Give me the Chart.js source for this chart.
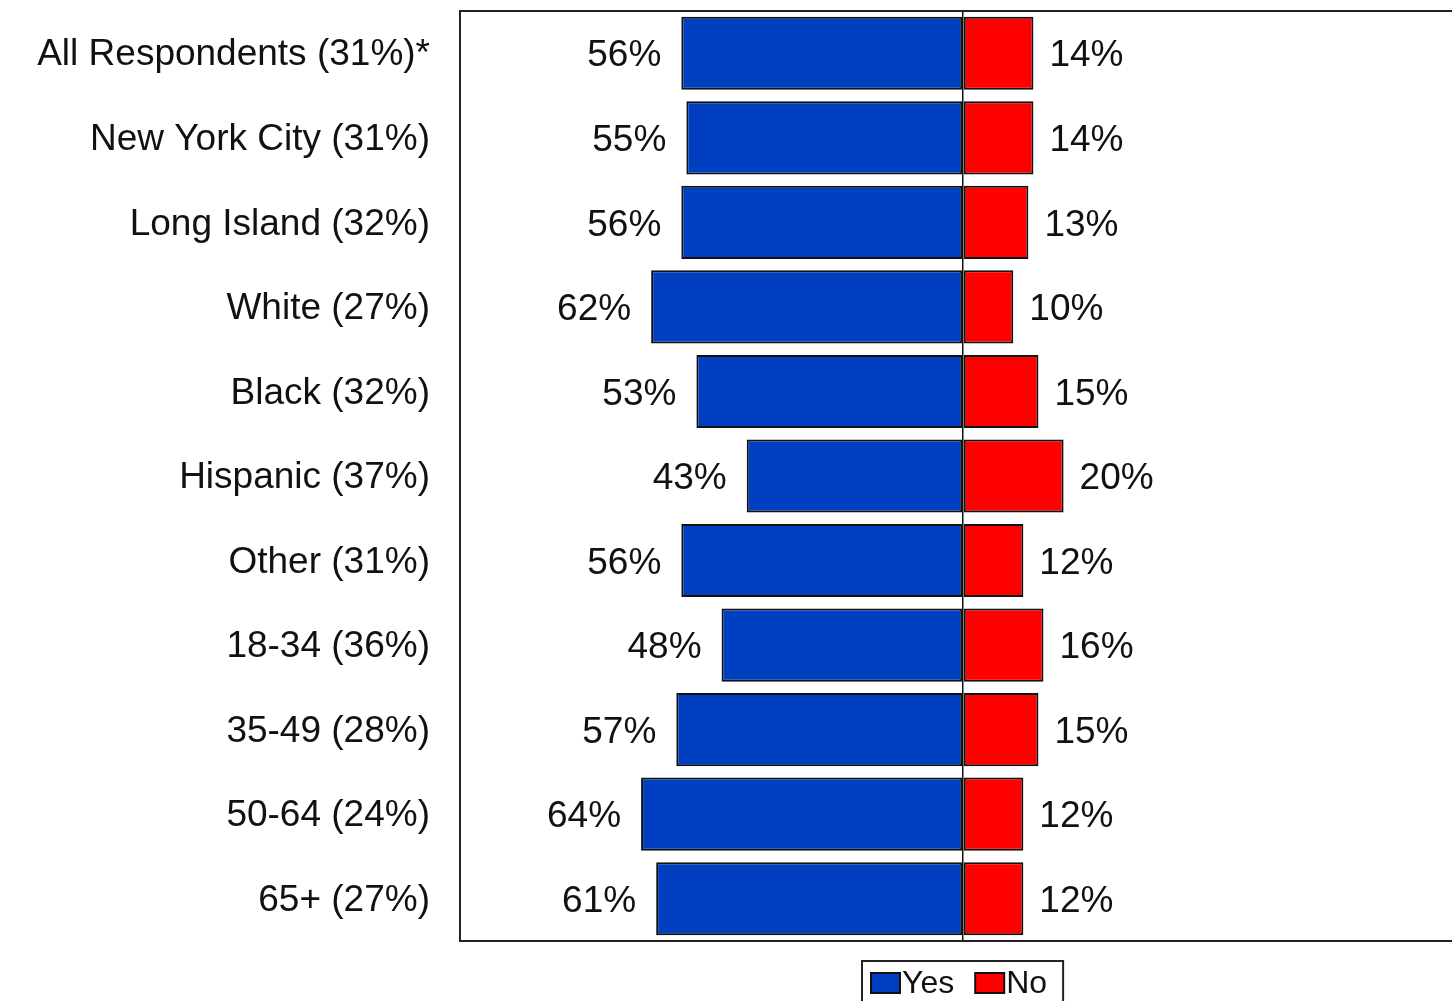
<!DOCTYPE html>
<html>
<head>
<meta charset="utf-8">
<script src="https://cdn.jsdelivr.net/npm/chart.js@4.4.1/dist/chart.umd.min.js"></script>
<style>
  html, body { margin: 0; padding: 0; background: #fff; overflow: hidden; }
  #wrap { position: relative; width: 1470px; height: 1001px; }
</style>
</head>
<body>
<div id="wrap"><canvas id="c"></canvas></div>
<script>
const categories = ["All Respondents (31%)*", "New York City (31%)", "Long Island (32%)", "White (27%)", "Black (32%)", "Hispanic (37%)", "Other (31%)", "18-34 (36%)", "35-49 (28%)", "50-64 (24%)", "65+ (27%)"];
const yesValues = [56, 55, 56, 62, 53, 43, 56, 48, 57, 64, 61];
const noValues  = [14, 14, 13, 10, 15, 20, 12, 16, 15, 12, 12];
const seriesNames = ["Yes", "No"];
const seriesColors = ["#0040C0", "#FF0000"];

const FONT = "'Liberation Sans', Arial, sans-serif";

const valueLabels = {
  id: 'valueLabels',
  afterDatasetsDraw(chart) {
    const ctx = chart.ctx;
    ctx.save();
    ctx.font = "37px " + FONT;
    ctx.fillStyle = "#111";
    ctx.textBaseline = "middle";
    chart.data.datasets.forEach((ds, di) => {
      const meta = chart.getDatasetMeta(di);
      meta.data.forEach((bar, i) => {
        const v = Math.abs(ds.data[i]);
        const txt = v + "%";
        if (ds.data[i] < 0) {
          ctx.textAlign = "right";
          ctx.fillText(txt, bar.x - 20, bar.y + 3);
        } else {
          ctx.textAlign = "left";
          ctx.fillText(txt, bar.x + 16, bar.y + 3);
        }
      });
    });
    ctx.restore();
  }
};

const frameAndLegend = {
  id: 'frameAndLegend',
  afterDraw(chart) {
    const ctx = chart.ctx;
    const a = chart.chartArea;
    ctx.save();
    ctx.strokeStyle = "#222";
    ctx.lineWidth = 2;
    ctx.strokeRect(a.left, a.top, a.right - a.left, a.bottom - a.top);

    // legend
    ctx.font = "32px " + FONT;
    const boxW = 29, boxH = 20, gap = 2, itemGap = 21, padL = 9, padR = 16;
    const widths = seriesNames.map(n => ctx.measureText(n).width);
    let total = padL + padR;
    widths.forEach((w, i) => { total += boxW + gap + w + (i > 0 ? itemGap : 0); });
    const cx = (a.left + a.right) / 2;
    const lx = Math.round(cx - total / 2);
    const ly = a.bottom + 20;
    ctx.strokeStyle = "#222";
    ctx.lineWidth = 2;
    ctx.strokeRect(lx, ly, total, 60);
    let x = lx + padL;
    const by = ly + 12;
    seriesNames.forEach((n, i) => {
      if (i > 0) x += itemGap;
      ctx.fillStyle = seriesColors[i];
      ctx.fillRect(x, by, boxW, boxH);
      ctx.strokeStyle = "#111";
      ctx.lineWidth = 2;
      ctx.strokeRect(x, by, boxW, boxH);
      x += boxW + gap;
      ctx.fillStyle = "#111";
      ctx.textAlign = "left";
      ctx.textBaseline = "middle";
      ctx.fillText(n, x, by + boxH / 2 + 1);
      x += widths[i];
    });
    ctx.restore();
  }
};

new Chart(document.getElementById('c'), {
  type: 'bar',
  data: {
    labels: categories,
    datasets: [
      { label: seriesNames[0], data: yesValues.map(v => -v), backgroundColor: seriesColors[0], borderColor: "#111", borderWidth: 2, borderSkipped: false, categoryPercentage: 1, barPercentage: 0.865 },
      { label: seriesNames[1], data: noValues, backgroundColor: seriesColors[1], borderColor: "#111", borderWidth: 2, borderSkipped: false, categoryPercentage: 1, barPercentage: 0.865 }
    ]
  },
  options: {
    indexAxis: 'y',
    responsive: true,
    maintainAspectRatio: false,
    animation: false,
    layout: { padding: { top: 11, bottom: 60, right: 4, left: 0 } },
    plugins: { legend: { display: false }, tooltip: { enabled: false } },
    scales: {
      x: {
        stacked: true,
        min: -100, max: 100,
        display: true,
        ticks: { display: false },
        border: { display: false },
        grid: {
          drawTicks: false,
          color: (c) => (c.tick && c.tick.value === 0) ? "#111" : "rgba(0,0,0,0)",
          lineWidth: 1.5
        }
      },
      y: {
        stacked: true,
        border: { display: false },
        grid: { display: false, drawTicks: false },
        ticks: { color: "#111", font: { family: FONT, size: 37 }, padding: 30, autoSkip: false, labelOffset: 2 },
        afterFit: (s) => { s.width = 460; s.paddingTop = 0; s.paddingBottom = 0; }
      }
    }
  },
  plugins: [valueLabels, frameAndLegend]
});
</script>
</body>
</html>
